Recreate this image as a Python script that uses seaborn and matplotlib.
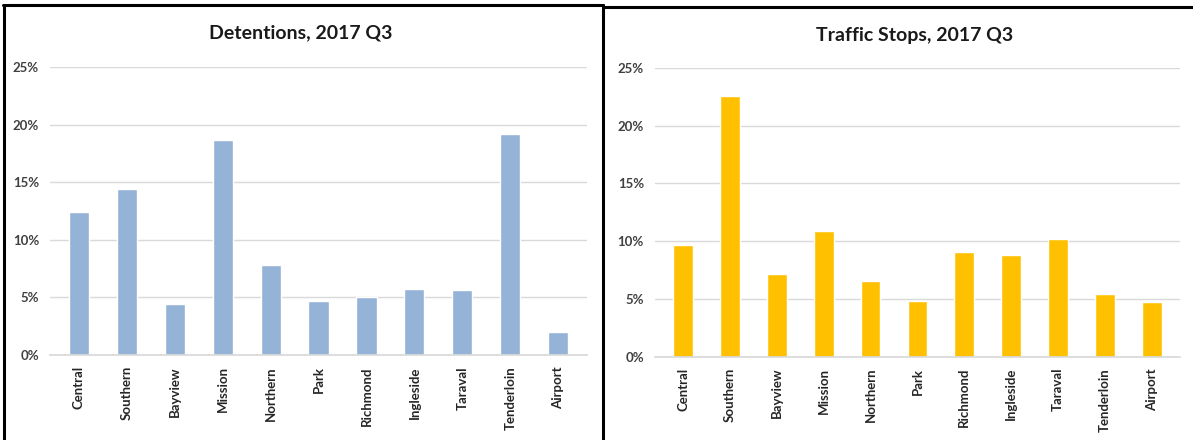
import pandas as pd
import matplotlib.pyplot as plt
from matplotlib.lines import Line2D
import seaborn as sns

# data
districts = ["Central", "Southern", "Bayview", "Mission", "Northern", "Park",
             "Richmond", "Ingleside", "Taraval", "Tenderloin", "Airport"]
detentions = [12.4, 14.4, 4.45, 18.7, 7.8, 4.7, 5.05, 5.7, 5.65, 19.15, 2.0]
traffic_stops = [9.65, 22.55, 7.15, 10.85, 6.55, 4.8, 9.05, 8.8, 10.2, 5.4, 4.75]
yticks = [0, 5, 10, 15, 20, 25]

sns.set_theme(style="white")
plt.rcParams["font.family"] = ["Lato", "DejaVu Sans"]

fig = plt.figure(figsize=(11.93, 4.4), dpi=100)
ax1 = fig.add_axes([0.042, 0.193, 0.450, 0.655])
ax2 = fig.add_axes([0.549, 0.189, 0.440, 0.657])

panels = [
    (ax1, detentions, "#95B3D7", "Detentions, 2017 Q3"),
    (ax2, traffic_stops, "#FFC000", "Traffic Stops, 2017 Q3"),
]

for ax, vals, color, title in panels:
    df = pd.DataFrame({"district": districts, "pct": vals})
    sns.barplot(data=df, x="district", y="pct", color=color, width=0.42,
                saturation=1, ax=ax)
    ax.set_ylim(0, 25)
    ax.set_yticks(yticks)
    ax.set_yticklabels([f"{t}%" for t in yticks], fontsize=9.5,
                       fontweight="bold", color="#404040")
    ax.set_xticklabels(districts, rotation=90, fontsize=9.5,
                       fontweight="bold", color="#262626")
    ax.set_xlabel("")
    ax.set_ylabel("")
    ax.yaxis.grid(True, color="#D9D9D9", linewidth=1)
    ax.set_axisbelow(True)
    for s in ["top", "right", "left"]:
        ax.spines[s].set_visible(False)
    ax.spines["bottom"].set_color("#D9D9D9")
    ax.tick_params(axis="both", length=0, pad=8)
    ax.set_xlim(-0.6, len(districts) - 0.4)

fig.text(0.252, 0.925, "Detentions, 2017 Q3", ha="center", va="center",
         fontsize=14, fontweight="bold", color="#1a1a1a")
fig.text(0.767, 0.920, "Traffic Stops, 2017 Q3", ha="center", va="center",
         fontsize=14, fontweight="bold", color="#1a1a1a")

# panel borders like the pasted screenshots
W, H = 1193, 440
def fline(x0, y0, x1, y1):
    fig.add_artist(Line2D([x0 / W, x1 / W], [1 - y0 / H, 1 - y1 / H],
                          color="black", linewidth=2.2))

fline(3, 5, 603, 5)
fline(4, 5, 4, 440)
fline(603, 5, 603, 440)
fline(603, 7, 1193, 7)

fig.savefig("out.png", dpi=100)
